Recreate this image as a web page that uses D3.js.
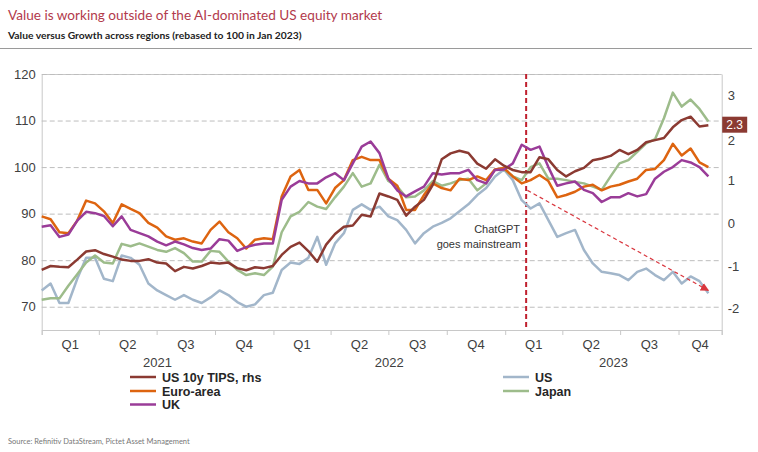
<!DOCTYPE html>
<html><head><meta charset="utf-8">
<script src="https://cdn.jsdelivr.net/npm/d3@7"></script>
<style>body{margin:0;background:#fff} svg{display:block}</style>
</head><body><svg id="c" width="758" height="452"></svg>
<script>
// ---------- data ----------
const startDate = "2021-01-01";
const stepDays = 14;
const usTips = [-1.09,-1.0,-1.02,-1.03,-0.85,-0.66,-0.63,-0.72,-0.78,-0.85,
 -0.88,-0.88,-0.84,-0.92,-0.94,-1.12,-1.02,-1.06,-1.0,-0.92,
 -0.94,-0.92,-1.05,-1.1,-1.03,-1.05,-1.0,-0.74,-0.55,-0.45,
 -0.65,-0.9,-0.5,-0.25,-0.08,-0.05,0.2,0.16,0.7,0.63,
 0.55,0.18,0.39,0.55,0.9,1.5,1.64,1.7,1.65,1.4,
 1.28,1.5,1.35,1.25,1.2,1.2,1.55,1.5,1.25,1.1,
 1.22,1.3,1.48,1.52,1.58,1.72,1.62,1.72,1.9,1.95,
 2.0,2.25,2.42,2.5,2.27,2.3];
const us = [73.5,75,70.8,70.8,76,80.5,80.5,76,75.5,81,
 80.5,79,75,73.5,72.5,71.5,72.5,71.5,70.8,72,
 73.5,72.5,71,70,70.5,72.5,73,77.9,79.5,79.2,
 80.5,85,79,83.6,85.8,90.8,92,90.8,91.5,89.4,
 88.6,86.5,83.6,85.8,87.2,88,89,90.5,92,94,
 95.5,98,99.5,97.2,92.9,91.1,92.2,88.6,85,85.8,
 86.5,82.2,79.3,77.5,77.2,76.8,75.7,77.5,78.2,76.8,
 75.7,77.5,75,76.5,75.5,72.9];
const euroArea = [89.4,88.8,86,85.8,88.5,92.8,92.2,90.5,88,92,
 91,90.1,88,87,85.1,84.4,84.7,84,83.6,86.5,
 88.3,86,84.7,82.5,84.4,84.7,84.5,93.7,98,99.4,
 95.1,95.1,92.2,95.5,97.2,101.5,102.2,101.5,101.5,97.5,
 96,90.8,90.8,94,96.5,95.5,95,97.5,97.2,98,
 97.2,99.5,99.8,98,96.5,97.2,98.3,97,93.5,94,
 94.7,95.8,96.2,95,95.8,96.2,96.9,97.5,99.4,99.6,
 101.5,105,102.5,104,101,100];
const japan = [71.5,71.8,71.8,74.5,77,79.5,81,79.5,79.3,83.5,
 83,83.6,82.9,82.2,81.8,82.6,81.5,79.7,79.7,82,
 81.8,79.7,77.9,76.8,77.2,76.8,78.6,86,89.4,90.4,
 92.5,91.5,91,93.5,95.8,98.7,95.8,96.5,100.5,97,
 95.8,93.5,93.7,95,97,96,96.5,97.2,97.5,95,
 96.5,99.5,99.6,98,97.2,100,100.8,97.5,97.5,97.2,
 96.8,96.5,95.8,95.1,98,100.8,101.5,103.3,105.1,106,
 110.5,116,113,114.5,112.5,109.8];
const uk = [87.2,87.5,85,85.5,88.5,90.4,90.1,89.5,87.3,89.4,
 86.5,85.8,85.1,84,83.2,84,83.4,82.6,82.2,82.5,
 84.5,84.2,82,82.8,83.3,83.6,83.6,93,95.8,97,
 96.5,96.5,97.8,98.7,97.2,100.8,104.4,105.5,103,97.5,
 95,93.7,94.8,95.8,98.7,98.4,98.7,98.7,99.4,97.2,
 96.5,99.4,99.5,100.8,104.8,103.7,104.4,100,96,96.5,
 96.9,95.1,94.4,92.5,93.5,93.5,94.4,93.7,94.2,97.5,
 99,100,101.5,101,100,98];
const seriesNames = ["US 10y TIPS, rhs","Euro-area","UK","US","Japan"];
const leftTicks = [70,80,90,100,110,120];
const rightTicks = [-2,-1,0,1,2,3];
const quarterLabels = ["Q1","Q2","Q3","Q4"];
const yearLabels = ["2021","2022","2023"];
const lastTipsLabel = "2.3";
const chatgptDate = "2023-02-03";
const trendStart = {date:"2023-02-05", value:95};
const trendEnd = {date:"2023-11-17", value:73.5};

// ---------- layout ----------
const svg = d3.select("#c");
const font = "'Liberation Sans', Arial, sans-serif";
const m = {l:41.7, r:721.7, t:74, b:330};
const parse = d3.timeParse("%Y-%m-%d");
const t0 = parse(startDate);
const dates = usTips.map((_, i) => d3.timeDay.offset(t0, i * stepDays));
const x = d3.scaleTime().domain([parse("2021-01-01"), parse("2023-12-08")]).range([m.l, m.r]);
const yL = d3.scaleLinear().domain([65, 120]).range([m.b, m.t]);
const yR = d3.scaleLinear().domain([-2.5, 3.5]).range([m.b, m.t]);

// title
svg.append("text").attr("x", 8).attr("y", 20)
  .attr("font-family", "Lato, 'Open Sans', sans-serif").attr("font-size", 13.6)
  .attr("fill", "#b23a4c").text("Value is working outside of the AI-dominated US equity market");
svg.append("text").attr("x", 8).attr("y", 39)
  .attr("font-family", "Lato, 'Open Sans', sans-serif").attr("font-size", 10.3).attr("font-weight", "bold")
  .attr("fill", "#222").text("Value versus Growth across regions (rebased to 100 in Jan 2023)");
svg.append("line").attr("x1", 0).attr("x2", 752).attr("y1", 48.5).attr("y2", 48.5)
  .attr("stroke", "#9a9a9a").attr("stroke-width", 1);

// left axis with gridlines
const gL = svg.append("g").attr("transform", `translate(${m.l},0)`)
  .call(d3.axisLeft(yL).tickValues(leftTicks).tickSize(-(m.r - m.l)).tickPadding(6));
gL.select(".domain").attr("stroke", "#c8c8c8");
gL.selectAll(".tick line").attr("stroke", "#bdbdbd").attr("stroke-dasharray", "5,3");
gL.selectAll(".tick text").attr("font-family", font).attr("font-size", 13).attr("fill", "#404040");

// right axis
const gR = svg.append("g").attr("transform", `translate(${m.r},0)`)
  .call(d3.axisRight(yR).tickValues(rightTicks).tickSize(0).tickPadding(6)
    .tickFormat(d => d < 0 ? "-" + Math.abs(d) : d));
gR.select(".domain").attr("stroke", "#c8c8c8");
gR.selectAll(".tick text").attr("font-family", font).attr("font-size", 13).attr("fill", "#404040")
  .attr("dy", d => d === 2 ? "0.5em" : "0.32em");

// bottom axis
const qStarts = d3.timeMonth.every(3).range(x.domain()[0], x.domain()[1]);
const gB = svg.append("g").attr("transform", `translate(0,${m.b})`)
  .call(d3.axisBottom(x).tickValues(qStarts.concat([x.domain()[1]])).tickSize(5).tickFormat(""));
gB.select(".domain").attr("stroke", "#c8c8c8");
gB.selectAll(".tick line").attr("stroke", "#c8c8c8");

// quarter labels
qStarts.forEach(q => {
  const next = d3.min([d3.timeMonth.offset(q, 3), x.domain()[1]]);
  svg.append("text").attr("x", (x(q) + x(next)) / 2).attr("y", 349)
    .attr("text-anchor", "middle").attr("font-family", font).attr("font-size", 13).attr("fill", "#404040")
    .text(quarterLabels[Math.floor(q.getMonth() / 3)]);
});
// year labels
yearLabels.forEach(yl => {
  const a = parse(yl + "-01-01");
  const b = d3.min([parse((+yl + 1) + "-01-01"), x.domain()[1]]);
  svg.append("text").attr("x", (x(a) + x(b)) / 2).attr("y", 367)
    .attr("text-anchor", "middle").attr("font-family", font).attr("font-size", 13).attr("fill", "#404040")
    .text(yl);
});

// chatgpt line
svg.append("line").attr("x1", x(parse(chatgptDate))).attr("x2", x(parse(chatgptDate)))
  .attr("y1", m.t).attr("y2", m.b).attr("stroke", "#c0202e").attr("stroke-width", 2)
  .attr("stroke-dasharray", "5,3");

// series
const colors = {tips:"#8b3a32", us:"#a2b6ca", euro:"#dd6410", japan:"#9dbc8b", uk:"#9a3c98"};
const lineL = d3.line().x((d, i) => x(dates[i])).y(d => yL(d));
const lineR = d3.line().x((d, i) => x(dates[i])).y(d => yR(d));
[[us, colors.us], [japan, colors.japan], [euroArea, colors.euro], [uk, colors.uk]].forEach(([arr, c]) => {
  svg.append("path").datum(arr).attr("d", lineL).attr("fill", "none").attr("stroke", c)
    .attr("stroke-width", 2.5).attr("stroke-linejoin", "round");
});
svg.append("path").datum(usTips).attr("d", lineR).attr("fill", "none").attr("stroke", colors.tips)
  .attr("stroke-width", 2.5).attr("stroke-linejoin", "round");

// trend arrow
svg.append("defs").append("marker").attr("id", "ah").attr("viewBox", "0 0 10 10")
  .attr("refX", 9).attr("refY", 5).attr("markerWidth", 7).attr("markerHeight", 7)
  .attr("orient", "auto").append("path").attr("d", "M0,0L10,5L0,10z").attr("fill", "#d9363e");
svg.append("line")
  .attr("x1", x(parse(trendStart.date))).attr("y1", yL(trendStart.value))
  .attr("x2", x(parse(trendEnd.date))).attr("y2", yL(trendEnd.value))
  .attr("stroke", "#d9363e").attr("stroke-width", 1.2).attr("stroke-dasharray", "4,3")
  .attr("marker-end", "url(#ah)");

// annotation
svg.append("text").attr("x", 520).attr("y", 233).attr("text-anchor", "end")
  .attr("font-family", font).attr("font-size", 11).attr("fill", "#333").text("ChatGPT");
svg.append("text").attr("x", 521).attr("y", 248).attr("text-anchor", "end")
  .attr("font-family", font).attr("font-size", 11).attr("fill", "#333").text("goes mainstream");

// last value label
const ly = yR(usTips[usTips.length - 1]);
svg.append("rect").attr("x", m.r + 0.5).attr("y", ly - 8.5).attr("width", 25).attr("height", 16)
  .attr("fill", colors.tips);
svg.append("text").attr("x", m.r + 13).attr("y", ly + 4).attr("text-anchor", "middle")
  .attr("font-family", font).attr("font-size", 12).attr("fill", "#fff").text(lastTipsLabel);

// legend
const legendItems = [
  {name: seriesNames[0], c: colors.tips, x: 130, y: 377},
  {name: seriesNames[1], c: colors.euro, x: 130, y: 391},
  {name: seriesNames[2], c: colors.uk, x: 130, y: 404.5},
  {name: seriesNames[3], c: colors.us, x: 503, y: 377},
  {name: seriesNames[4], c: colors.japan, x: 503, y: 391}
];
legendItems.forEach(it => {
  svg.append("line").attr("x1", it.x).attr("x2", it.x + 26).attr("y1", it.y).attr("y2", it.y)
    .attr("stroke", it.c).attr("stroke-width", 2.5);
  svg.append("text").attr("x", it.x + 32).attr("y", it.y + 4.5)
    .attr("font-family", font).attr("font-size", 12.5).attr("fill", "#262626").attr("font-weight", "bold")
    .text(it.name);
});

// source
svg.append("text").attr("x", 8).attr("y", 444).attr("font-family", "Lato, 'Open Sans', sans-serif")
  .attr("font-size", 7.5).attr("fill", "#777").text("Source: Refinitiv DataStream, Pictet Asset Management");
</script></body></html>
